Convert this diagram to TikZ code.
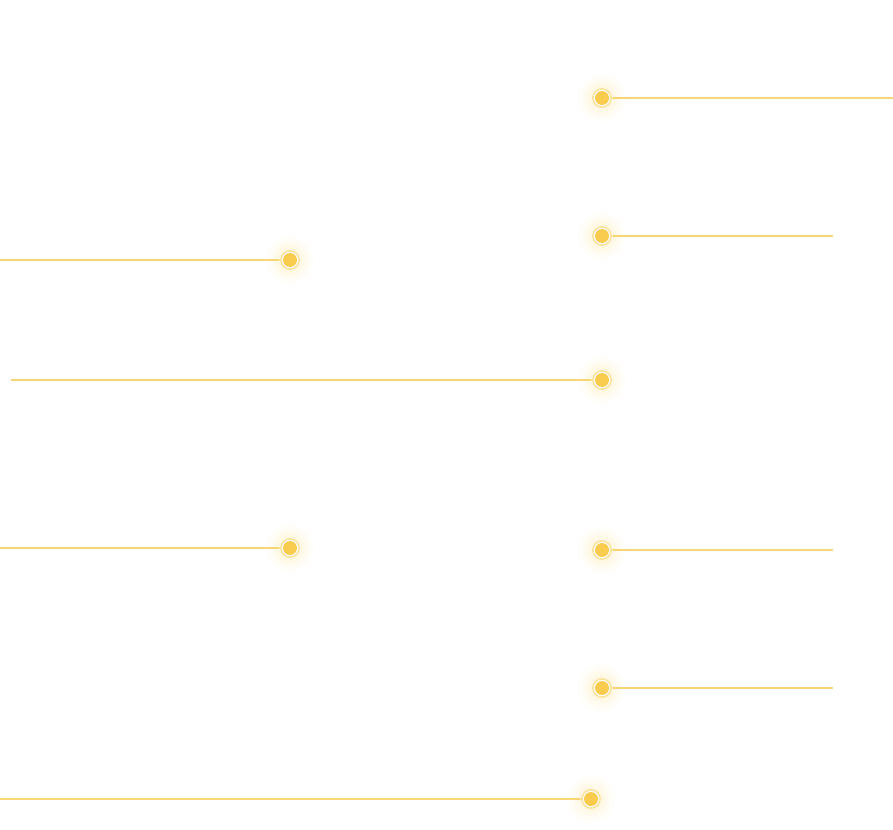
\documentclass[tikz,border=0pt]{standalone}
\definecolor{lineY}{HTML}{F9D674}
\definecolor{dotY}{HTML}{F9CB4E}
\definecolor{ringY}{HTML}{FCE19A}
\definecolor{glowY}{HTML}{FCD86A}
\tikzset{
  x=1pt,y=-1pt,
  conn/.style={draw=lineY,line width=2.2pt},
  dotfill/.style={circle,fill=dotY,minimum size=14pt,inner sep=0pt},
}
\newcommand{\glowdot}[2]{%
  \foreach \r/\o in {24/0.025,21/0.035,18/0.045,15/0.06,12/0.08}{%
    \fill[glowY,opacity=\o] (#1) circle (\r);}%
}
\begin{document}
\begin{tikzpicture}
\useasboundingbox (0,0) rectangle (893,829);
% dot positions
\coordinate (d1) at (602,98);
\coordinate (d2) at (602,236);
\coordinate (d3) at (290,260);
\coordinate (d4) at (602,380);
\coordinate (d5) at (290,548);
\coordinate (d6) at (602,550);
\coordinate (d7) at (602,688);
\coordinate (d8) at (591,799);
% free ends
\coordinate (e1) at (893,98);
\coordinate (e2) at (833,236);
\coordinate (e3) at (0,260);
\coordinate (e4) at (11,380);
\coordinate (e5) at (0,548);
\coordinate (e6) at (833,550);
\coordinate (e7) at (833,688);
\coordinate (e8) at (0,799);
% glows
\foreach \i in {1,...,8}{\glowdot{d\i}{}}
% connectors
\foreach \i in {1,...,8}{\draw[conn] (d\i) -- (e\i);}
% dots
\foreach \i in {1,...,8}{
  \fill[white] (d\i) circle (10.5);
  \draw[ringY,line width=1.6pt] (d\i) circle (9.2);
  \node[dotfill] (n\i) at (d\i) {};
}
\end{tikzpicture}
\end{document}
